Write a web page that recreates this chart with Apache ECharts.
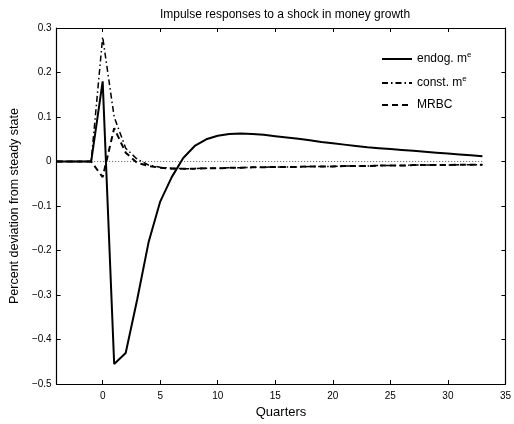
<!DOCTYPE html>
<html>
<head>
<meta charset="utf-8">
<script src="https://cdn.jsdelivr.net/npm/echarts@6/dist/echarts.min.js"></script>
<style>
html,body{margin:0;padding:0;background:#fff;}
#chart{width:514px;height:424px;}
</style>
</head>
<body>
<div id="chart"></div>
<script>
var quarters = [-4,-3,-2,-1,0,1,2,3,4,5,6,7,8,9,10,11,12,13,14,15,16,17,18,19,20,21,22,23,24,25,26,27,28,29,30,31,32,33];
var endog = [0,0,0,0,0.18,-0.455,-0.43,-0.31,-0.18,-0.09,-0.035,0.008,0.035,0.05,0.058,0.062,
  0.063,0.062,0.060,0.057,0.054,0.051,0.048,0.044,0.041,0.038,0.035,0.032,0.030,0.028,0.026,0.024,0.022,0.020,0.018,0.016,0.014,0.012];
var constMe = [0,0,0,0,0.28,0.1,0.03,0.005,-0.008,-0.013,-0.015,-0.016,-0.016,-0.015,-0.015,-0.014,
  -0.014,-0.013,-0.013,-0.012,-0.012,-0.012,-0.011,-0.011,-0.011,-0.010,-0.010,-0.010,-0.009,-0.009,-0.009,-0.008,-0.008,-0.008,-0.008,-0.007,-0.007,-0.007];
var mrbc = [0,0,0,0,-0.035,0.075,0.02,-0.003,-0.01,-0.014,-0.016,-0.016,-0.016,-0.015,-0.015,-0.014,
  -0.014,-0.013,-0.013,-0.012,-0.012,-0.012,-0.011,-0.011,-0.011,-0.010,-0.010,-0.010,-0.009,-0.009,-0.009,-0.008,-0.008,-0.008,-0.008,-0.007,-0.007,-0.007];
var zeroLine = quarters.map(function(){return 0;});
var names = ['endog. m{s|e}', 'const. m{s|e}', 'MRBC'];

function pairs(v){ return quarters.map(function(q,i){ return [q, v[i]]; }); }
var FONT = 'Liberation Sans';
var chart = echarts.init(document.getElementById('chart'));
var fmtMinus = function(v){ return String(Math.round(v*10)/10).replace('-', '\u2212'); };
var axLine = {onZero: false, show: true, lineStyle: {color: '#000', width: 1.2}};
var tick = {show: true, inside: true, length: 4, lineStyle: {color: '#000'}};
chart.setOption({
  animation: false,
  backgroundColor: '#fff',
  title: {
    text: 'Impulse responses to a shock in money growth',
    left: 280, top: 4, textAlign: 'center',
    textStyle: {fontFamily: FONT, fontSize: 12, fontWeight: 'normal', color: '#000'}
  },
  legend: {
    data: names.map(function(n){return {name:n};}),
    orient: 'vertical', left: 376, top: 46,
    itemWidth: 30, itemHeight: 14, itemGap: 10,
    itemStyle: {opacity: 0},
    textStyle: {fontFamily: FONT, fontSize: 12, color: '#000',
      rich: {s: {fontSize: 8, verticalAlign: 'top', padding: [0,0,8,0], fontFamily: FONT, color:'#000'}}}
  },
  grid: {left: 51, right: 6, top: 28, bottom: 37, show: false},
  xAxis: [{
    type: 'value', min: -4, max: 35, splitNumber: 8, position: 'bottom',
    name: 'Quarters', nameLocation: 'middle', nameGap: 20,
    nameTextStyle: {fontFamily: FONT, fontSize: 13, color: '#000'},
    axisLine: axLine, axisTick: tick,
    axisLabel: {showMinLabel: false, fontFamily: FONT, fontSize: 10, color: '#000', margin: 7},
    splitLine: {show: false}
  }, {
    type: 'value', min: -4, max: 35, splitNumber: 8, position: 'top',
    axisLine: axLine, axisTick: tick,
    axisLabel: {show: false}, splitLine: {show: false}
  }],
  yAxis: [{
    type: 'value', min: -0.5, max: 0.3, interval: 0.1, position: 'left',
    name: 'Percent deviation from steady state', nameLocation: 'middle', nameGap: 28,
    nameTextStyle: {fontFamily: FONT, fontSize: 12.5, color: '#000'},
    axisLine: axLine, axisTick: tick,
    axisLabel: {formatter: fmtMinus, fontFamily: FONT, fontSize: 10, color: '#000', margin: 5},
    splitLine: {show: false}
  }, {
    type: 'value', min: -0.5, max: 0.3, interval: 0.1, position: 'right',
    axisLine: axLine, axisTick: tick,
    axisLabel: {show: false}, splitLine: {show: false}
  }],
  series: [{
    name: 'zero', type: 'line', data: pairs(zeroLine).slice(3), symbol: 'none', silent: true,
    lineStyle: {color: '#555', width: 1, type: [1, 2]}, z: 1
  }, {
    name: names[0], type: 'line', data: pairs(endog), symbol: 'none',
    lineStyle: {color: '#000', width: 2, type: 'solid'}, itemStyle: {color: '#000'}, z: 4
  }, {
    name: names[1], type: 'line', data: pairs(constMe), symbol: 'none',
    lineStyle: {color: '#000', width: 1.5, type: [6, 3, 1.5, 3]}, itemStyle: {color: '#000'}, z: 3
  }, {
    name: names[2], type: 'line', data: pairs(mrbc), symbol: 'none',
    lineStyle: {color: '#000', width: 2, type: [6, 4]}, itemStyle: {color: '#000'}, z: 2
  }]
});
</script>
</body>
</html>
